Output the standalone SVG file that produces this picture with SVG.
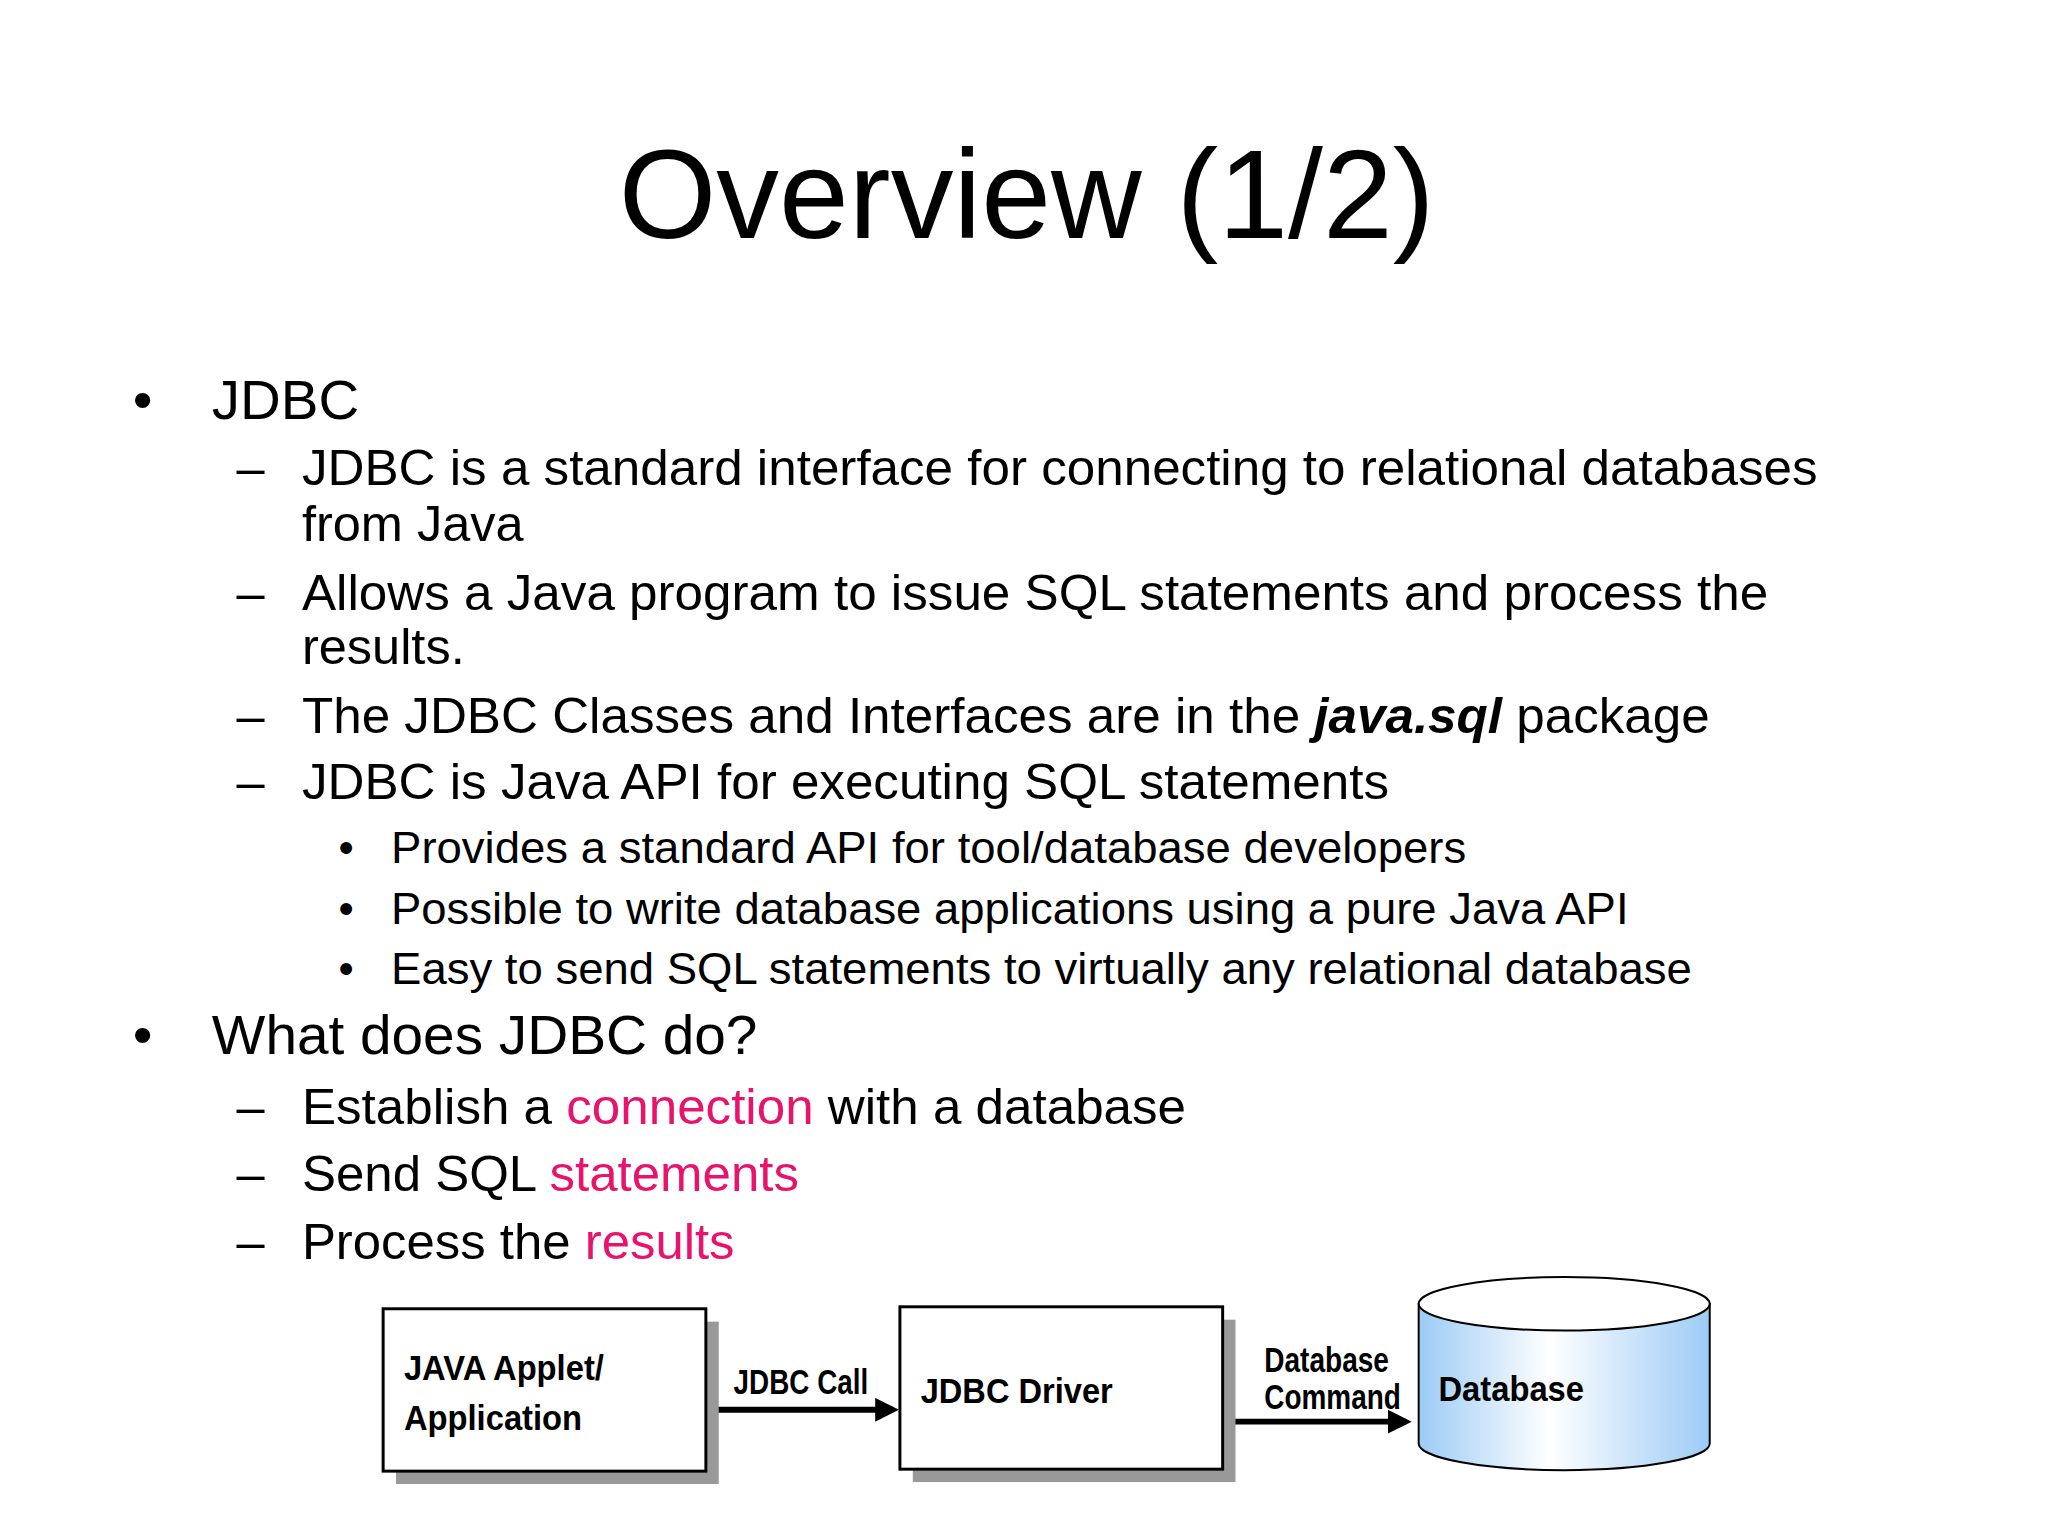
<svg xmlns="http://www.w3.org/2000/svg" width="2048" height="1536" viewBox="0 0 2048 1536">
<defs>
<style>
text{font-family:"Liberation Sans",Arial,sans-serif;fill:#000}
.l1{font-size:57px}.l2{font-size:51px}.l3{font-size:44px}
.pk{fill:#E8136B}
.d{font-weight:bold;font-size:36px}
.box{fill:#fff;stroke:#000;stroke-width:3}
.sh{fill:#999}
.cn{stroke:#000;stroke-width:6;fill:none}
</style>
<linearGradient id="cyl" x1="0" x2="1" y1="0" y2="0">
<stop offset="0" stop-color="#9ccbf5"/><stop offset="0.45" stop-color="#ffffff"/><stop offset="1" stop-color="#9ccbf5"/>
</linearGradient>
<marker id="ah" markerWidth="4" markerHeight="4" refX="3" refY="2" orient="auto" markerUnits="strokeWidth"><path d="M0,0L4,2L0,4Z" fill="#000"/></marker>
</defs>
<rect width="2048" height="1536" fill="#fff"/>
<g transform="scale(0.99)">
<text x="1037" y="240" text-anchor="middle" font-size="127" textLength="824" lengthAdjust="spacingAndGlyphs">Overview (1/2)</text>

<text class="l1" x="134" y="423">•</text>
<text class="l1" x="214" y="423">JDBC</text>
<text class="l2" x="239" y="490">–</text>
<text class="l2" x="305" y="490" textLength="1531" lengthAdjust="spacingAndGlyphs">JDBC is a standard interface for connecting to relational databases</text>
<text class="l2" x="305" y="546">from Java</text>
<text class="l2" x="239" y="616">–</text>
<text class="l2" x="305" y="616" textLength="1481" lengthAdjust="spacingAndGlyphs">Allows a Java program to issue SQL statements and process the</text>
<text class="l2" x="305" y="671">results.</text>
<text class="l2" x="239" y="740">–</text>
<text class="l2" x="305" y="740" textLength="1422" lengthAdjust="spacingAndGlyphs">The JDBC Classes and Interfaces are in the <tspan font-weight="bold" font-style="italic">java.sql</tspan> package</text>
<text class="l2" x="239" y="807">–</text>
<text class="l2" x="305" y="807" textLength="1098" lengthAdjust="spacingAndGlyphs">JDBC is Java API for executing SQL statements</text>
<text class="l3" x="342" y="872">•</text>
<text class="l3" x="395" y="872" textLength="1086" lengthAdjust="spacingAndGlyphs">Provides a standard API for tool/database developers</text>
<text class="l3" x="342" y="933">•</text>
<text class="l3" x="395" y="933" textLength="1250" lengthAdjust="spacingAndGlyphs">Possible to write database applications using a pure Java API</text>
<text class="l3" x="342" y="994">•</text>
<text class="l3" x="395" y="994" textLength="1314" lengthAdjust="spacingAndGlyphs">Easy to send SQL statements to virtually any relational database</text>
<text class="l1" x="134" y="1065">•</text>
<text class="l1" x="214" y="1065" textLength="551" lengthAdjust="spacingAndGlyphs">What does JDBC do?</text>
<text class="l2" x="239" y="1135">–</text>
<text class="l2" x="305" y="1135" textLength="893" lengthAdjust="spacingAndGlyphs">Establish a <tspan class="pk">connection</tspan> with a database</text>
<text class="l2" x="239" y="1203">–</text>
<text class="l2" x="305" y="1203" textLength="502" lengthAdjust="spacingAndGlyphs">Send SQL <tspan class="pk">statements</tspan></text>
<text class="l2" x="239" y="1272">–</text>
<text class="l2" x="305" y="1272" textLength="437" lengthAdjust="spacingAndGlyphs">Process the <tspan class="pk">results</tspan></text>

<g id="connectors">
<path class="cn" d="M720,1424H902" marker-end="url(#ah)"/>
<text class="d" x="741" y="1408" textLength="136" lengthAdjust="spacingAndGlyphs">JDBC Call</text>
<path class="cn" d="M1238,1436H1420" marker-end="url(#ah)"/>
<text class="d" x="1277" y="1386" textLength="126" lengthAdjust="spacingAndGlyphs">Database</text>
<text class="d" x="1277" y="1423" textLength="138" lengthAdjust="spacingAndGlyphs">Command</text>
</g>
<g id="app">
<rect class="sh" x="400" y="1335" width="326" height="164"/>
<rect class="box" x="387" y="1322" width="326" height="164"/>
<text class="d" x="408" y="1394" textLength="202" lengthAdjust="spacingAndGlyphs">JAVA Applet/</text>
<text class="d" x="408" y="1444" textLength="180" lengthAdjust="spacingAndGlyphs">Application</text>
</g>
<g id="driver">
<rect class="sh" x="922" y="1333" width="326" height="164"/>
<rect class="box" x="909" y="1320" width="326" height="164"/>
<text class="d" x="930" y="1417" textLength="194" lengthAdjust="spacingAndGlyphs">JDBC Driver</text>
</g>
<g id="database">
<path d="M1433,1317V1458A147,27 0 0 0 1727,1458V1317Z" fill="url(#cyl)" stroke="#000" stroke-width="2"/>
<ellipse cx="1580" cy="1317" rx="147" ry="27" fill="#fff" stroke="#000" stroke-width="2"/>
<text class="d" x="1453" y="1415" textLength="147" lengthAdjust="spacingAndGlyphs">Database</text>
</g>
</g>
</svg>
